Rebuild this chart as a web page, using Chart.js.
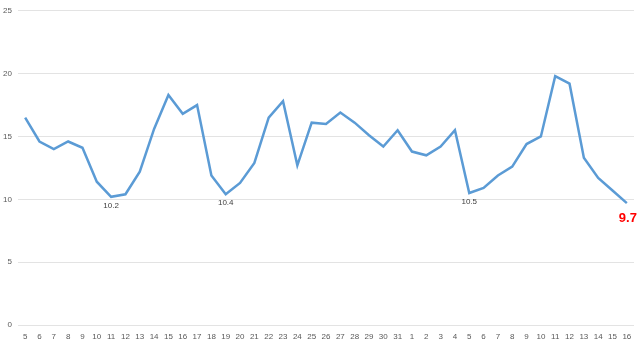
<!DOCTYPE html>
<html>
<head>
<meta charset="utf-8">
<script src="https://cdn.jsdelivr.net/npm/chart.js@4"></script>
<style>
html,body{margin:0;padding:0;background:#fff;}
#wrap{width:640px;height:341px;}
</style>
</head>
<body>
<div id="wrap"><canvas id="c" width="640" height="341"></canvas></div>
<script>
const categories = ['5','6','7','8','9','10','11','12','13','14','15','16','17','18','19','20','21','22','23','24','25','26','27','28','29','30','31','1','2','3','4','5','6','7','8','9','10','11','12','13','14','15','16'];
const values = [16.5,14.6,14.0,14.6,14.1,11.4,10.2,10.4,12.2,15.6,18.3,16.8,17.5,11.9,10.4,11.3,12.9,16.5,17.8,12.7,16.1,16.0,16.9,16.1,15.1,14.2,15.5,13.8,13.5,14.2,15.5,10.5,10.9,11.9,12.6,14.4,15.0,19.8,19.2,13.3,11.7,10.7,9.7];
const yTicks = [0,5,10,15,20,25];
const annotations = [
  {index:6, text:'10.2', color:'#404040', bold:false, size:8, dx:0, dy:9},
  {index:14, text:'10.4', color:'#404040', bold:false, size:8, dx:0, dy:9},
  {index:31, text:'10.5', color:'#404040', bold:false, size:8, dx:0, dy:9},
  {index:42, text:'9.7', color:'#FF0000', bold:true, size:13, dx:1, dy:15}
];

const labelPlugin = {
  id:'labelPlugin',
  afterDatasetsDraw(chart){
    const ctx = chart.ctx;
    const xs = chart.scales.x, ys = chart.scales.y;
    ctx.save();
    ctx.textAlign='center';
    ctx.textBaseline='middle';
    annotations.forEach(a=>{
      const x = xs.getPixelForValue(a.index);
      const y = ys.getPixelForValue(values[a.index]);
      ctx.font = (a.bold?'bold ':'') + a.size + 'px "Liberation Sans", Arial, sans-serif';
      ctx.fillStyle = a.color;
      ctx.fillText(a.text, x + a.dx, y + a.dy);
    });
    ctx.restore();
  }
};

new Chart(document.getElementById('c'), {
  type:'line',
  data:{
    labels:categories,
    datasets:[{
      data:values,
      borderColor:'#5B9BD5',
      borderWidth:2.5,
      pointRadius:0,
      tension:0,
      fill:false
    }]
  },
  options:{
    responsive:false,
    animation:false,
    layout:{padding:{top:8,right:6,left:0,bottom:0}},
    plugins:{legend:{display:false},tooltip:{enabled:false}},
    scales:{
      x:{
        offset:true,
        grid:{display:false,drawTicks:false},
        border:{display:false},
        ticks:{autoSkip:false,maxRotation:0,minRotation:0,padding:7,color:'#595959',font:{size:8,family:'"Liberation Sans", Arial, sans-serif'}},
        afterFit(s){s.height=16;}
      },
      y:{
        min:0,max:25,
        afterBuildTicks(s){s.ticks = yTicks.map(v=>({value:v}));},
        grid:{color:'#E3E3E3',lineWidth:1,drawTicks:false},
        border:{display:false},
        ticks:{padding:6,color:'#595959',font:{size:8,family:'"Liberation Sans", Arial, sans-serif'}},
        afterFit(s){s.width=18;}
      }
    }
  },
  plugins:[labelPlugin]
});
</script>
</body>
</html>
